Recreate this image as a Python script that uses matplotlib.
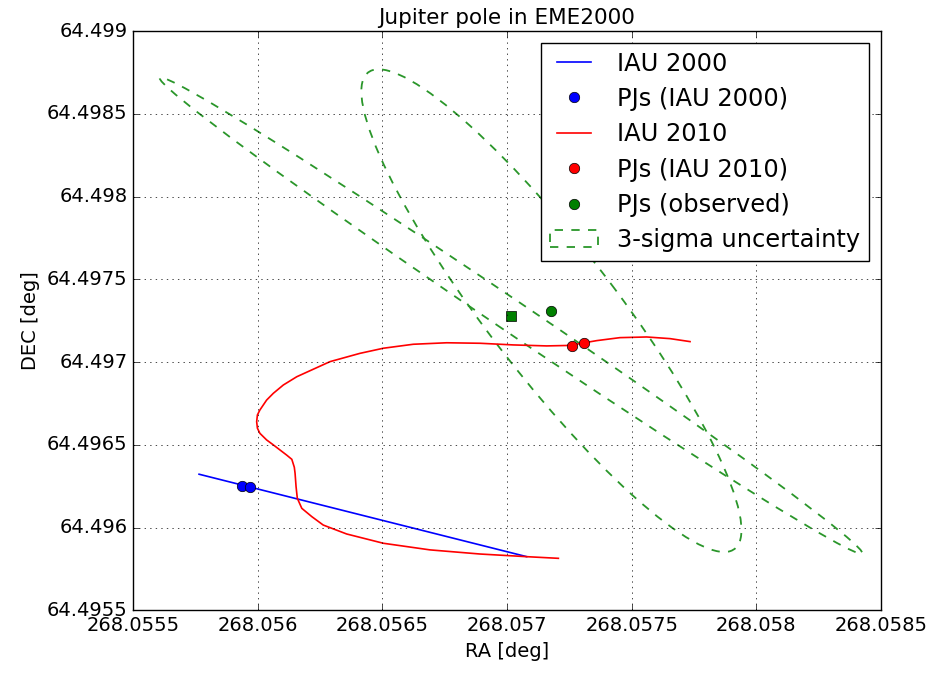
import matplotlib
matplotlib.use('Agg')
import matplotlib.pyplot as plt
from matplotlib.patches import Ellipse
from matplotlib.legend_handler import HandlerLine2D
from matplotlib.ticker import FuncFormatter

plt.style.use('classic')

# pole track from the IAU 2000 model
ra_iau2000 = [268.055765, 268.057079]
dec_iau2000 = [64.496323, 64.495825]

# perijove poles, IAU 2000
ra_pj2000 = [268.055938, 268.055969]
dec_pj2000 = [64.496254, 64.496244]

# pole track from the IAU 2010 model
ra_iau2010 = [268.057734, 268.057654, 268.057560, 268.057453, 268.057360, 268.057310,
              268.057253, 268.057159, 268.057025, 268.056892, 268.056758, 268.056624,
              268.056504, 268.056410, 268.056290, 268.056157, 268.056103, 268.056063,
              268.056036, 268.056009, 268.055999, 268.055996, 268.055999, 268.056009,
              268.056036, 268.056063, 268.056116, 268.056137, 268.056147, 268.056150,
              268.056154, 268.056159, 268.056177, 268.056217, 268.056263, 268.056357,
              268.056504, 268.056691, 268.056892, 268.057079, 268.057206]
dec_iau2010 = [64.497124, 64.497142, 64.497152, 64.497148, 64.497130, 64.497117,
               64.497101, 64.497098, 64.497104, 64.497114, 64.497117, 64.497108,
               64.497084, 64.497053, 64.497003, 64.496912, 64.496862, 64.496812,
               64.496771, 64.496711, 64.496681, 64.496640, 64.496601, 64.496570,
               64.496530, 64.496500, 64.496439, 64.496413, 64.496365, 64.496329,
               64.496248, 64.496178, 64.496117, 64.496067, 64.496016, 64.495962,
               64.495906, 64.495866, 64.495841, 64.495825, 64.495815]

# perijove poles, IAU 2010
ra_pj2010 = [268.057262, 268.057310]
dec_pj2010 = [64.497099, 64.497117]

# observed poles: first one drawn as a square, second as a dot
ra_obs = [268.057016, 268.057178]
dec_obs = [64.497281, 64.497311]

# 3-sigma error ellipses around the observed poles (semi-axes in deg, angle in deg)
sig_major = [0.002012, 0.001620]
sig_minor = [0.000080, 0.000286]
sig_angle = [-45.6, 116.3]

fig = plt.figure(figsize=(9.28, 6.73), dpi=100, facecolor='white')
ax = fig.add_axes([0.1433, 0.0929, 0.8061, 0.8610])

line2000, = ax.plot(ra_iau2000, dec_iau2000, 'b-', lw=1.2, label='IAU 2000')
pts2000, = ax.plot(ra_pj2000, dec_pj2000, 'bo', ms=7.5, mec='k', mew=0.5,
                   label='PJs (IAU 2000)')
line2010, = ax.plot(ra_iau2010, dec_iau2010, 'r-', lw=1.2, label='IAU 2010')
pts2010, = ax.plot(ra_pj2010, dec_pj2010, 'ro', ms=7.5, mec='k', mew=0.5,
                   label='PJs (IAU 2010)')
ax.plot(ra_obs[:1], dec_obs[:1], 'gs', ms=7.5, mec='k', mew=0.5)
ptsobs, = ax.plot(ra_obs[1:], dec_obs[1:], 'go', ms=7.5, mec='k', mew=0.5,
                  label='PJs (observed)')

for i in range(len(ra_obs)):
    ell = Ellipse((ra_obs[i], dec_obs[i]), 2 * sig_major[i], 2 * sig_minor[i],
                  angle=sig_angle[i], facecolor='none', edgecolor='#2a962a',
                  linestyle='dashed', linewidth=1.3,
                  label='3-sigma uncertainty' if i == 0 else None)
    ax.add_patch(ell)

ax.set_xlim(268.0555, 268.0585)
ax.set_ylim(64.4955, 64.499)
# plain tick values without trailing zeros
short = FuncFormatter(lambda v, p: f'{round(v, 6):.10g}')
ax.xaxis.set_major_formatter(short)
ax.yaxis.set_major_formatter(short)
ax.tick_params(labelsize=14)
ax.set_xlabel('RA [deg]', fontsize=14)
ax.set_ylabel('DEC [deg]', fontsize=14)
ax.set_title('Jupiter pole in EME2000', fontsize=15.5)
ax.grid(True)

one = HandlerLine2D(numpoints=1)
ax.legend(numpoints=2, fontsize=17.4, labelspacing=0.47, borderpad=0.35,
          handler_map={pts2000: one, pts2010: one, ptsobs: one})

fig.savefig('out.png', dpi=100, facecolor='white')
